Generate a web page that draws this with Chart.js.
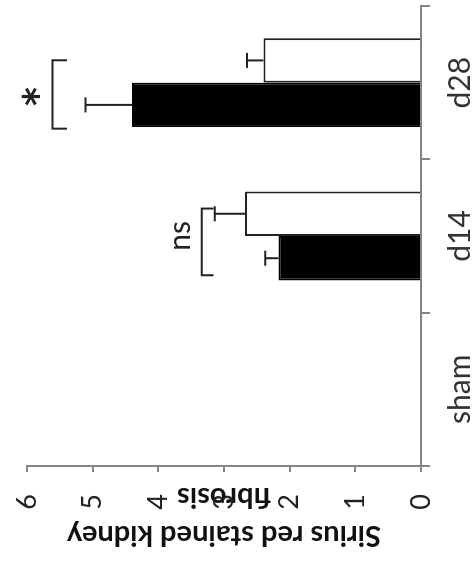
<!DOCTYPE html>
<html><head><meta charset="utf-8">
<script src="https://cdn.jsdelivr.net/npm/chart.js@4/dist/chart.umd.min.js"></script>
<style>
html,body{margin:0;padding:0;background:#fff;width:474px;height:569px;overflow:hidden}
#wrap{position:absolute;left:0;top:0;width:569px;height:474px;transform-origin:0 0;transform:translate(0,569px) rotate(-90deg);}
</style></head><body>
<div id="wrap"><canvas id="c"></canvas></div>
<script>
const categories = ['sham', 'd14', 'd28'];
const blackValues = [0, 2.17, 4.40];
const blackErrors = [0, 0.20, 0.71];
const whiteValues = [0, 2.68, 2.40];
const whiteErrors = [0, 0.46, 0.25];
const yTicks = [0, 1, 2, 3, 4, 5, 6];
const yTitle = ['Sirius red stained kidney', 'fibrosis'];
const bracketFrom = [0.744, 1.70];
const bracketTo = [1.179, 2.146];
const bracketLevel = [3.34, 5.61];
const bracketFoot = [3.16, 5.39];
const bracketText = ['ns', '*'];
const bracketTextPos = [1.0, 1.91];
const bracketTextLevel = [3.52, 5.94];

const FONT = 'Lato, "Open Sans", sans-serif';
const AXIS = '#858585';

const annot = {
  id: 'annot',
  afterDatasetsDraw(chart) {
    const ctx = chart.ctx, xs = chart.scales.x, ys = chart.scales.y;
    const errs = [blackErrors, whiteErrors];
    ctx.save();
    ctx.strokeStyle = '#222';
    ctx.lineWidth = 2;
    chart.data.datasets.forEach((ds, di) => {
      const meta = chart.getDatasetMeta(di);
      meta.data.forEach((bar, i) => {
        const e = errs[di][i];
        if (!e) return;
        const top = ys.getPixelForValue(ds.data[i] + e);
        ctx.beginPath();
        ctx.moveTo(bar.x, bar.y);
        ctx.lineTo(bar.x, top);
        ctx.moveTo(bar.x - 7.5, top);
        ctx.lineTo(bar.x + 7.5, top);
        ctx.stroke();
      });
    });
    bracketFrom.forEach((f, k) => {
      const x0 = xs.getPixelForValue(f), x1 = xs.getPixelForValue(bracketTo[k]);
      const yl = ys.getPixelForValue(bracketLevel[k]), yf = ys.getPixelForValue(bracketFoot[k]);
      ctx.beginPath();
      ctx.moveTo(x0, yf); ctx.lineTo(x0, yl); ctx.lineTo(x1, yl); ctx.lineTo(x1, yf);
      ctx.stroke();
      const tx = xs.getPixelForValue(bracketTextPos[k]);
      const ty = ys.getPixelForValue(bracketTextLevel[k]);
      ctx.fillStyle = '#222';
      ctx.textAlign = 'center';
      ctx.textBaseline = 'alphabetic';
      if (bracketText[k] === '*') {
        ctx.font = 'bold 54px ' + FONT;
        const m = ctx.measureText('*');
        const inkMid = (m.actualBoundingBoxAscent - m.actualBoundingBoxDescent) / 2;
        ctx.fillText('*', tx, ty + inkMid);
      } else {
        ctx.font = '30px ' + FONT;
        ctx.fillText(bracketText[k], tx, ty);
      }
    });
    ctx.restore();
  }
};

new Chart(document.getElementById('c'), {
  type: 'bar',
  data: {
    labels: categories,
    datasets: [
      { data: blackValues, backgroundColor: '#000', borderColor: '#000', borderWidth: 2 },
      { data: whiteValues, backgroundColor: '#fff', borderColor: '#222', borderWidth: 2 }
    ]
  },
  options: {
    responsive: true,
    maintainAspectRatio: false,
    devicePixelRatio: 1,
    animation: false,
    layout: { padding: { left: 0, right: 6, top: 27, bottom: 0 } },
    plugins: { legend: { display: false }, tooltip: { enabled: false } },
    datasets: { bar: { categoryPercentage: 0.58, barPercentage: 1.0 } },
    scales: {
      x: {
        offset: true,
        grid: { offset: true, drawOnChartArea: false, drawTicks: true, tickLength: 9, color: AXIS, lineWidth: 2 },
        border: { display: true, color: AXIS, width: 2 },
        ticks: { font: { family: FONT, size: 30 }, color: '#333', padding: 12 },
        afterFit(s) { s.height = 53; }
      },
      y: {
        min: 0, max: 6,
        afterBuildTicks(s) { s.ticks = yTicks.map(v => ({ value: v })); },
        grid: { drawOnChartArea: false, drawTicks: true, tickLength: 6, color: AXIS, lineWidth: 2 },
        border: { display: true, color: AXIS, width: 2 },
        ticks: { font: { family: FONT, size: 27 }, color: '#222', padding: 22 },
        title: { display: true, text: yTitle, font: { family: FONT, size: 29, weight: 'bold', lineHeight: 1.3 }, color: '#111', padding: { top: 15, bottom: 0 } },
        afterFit(s) { s.width = 103; s.paddingTop = 0; s.paddingBottom = 0; }
      }
    }
  },
  plugins: [annot]
});
</script>
</body></html>
